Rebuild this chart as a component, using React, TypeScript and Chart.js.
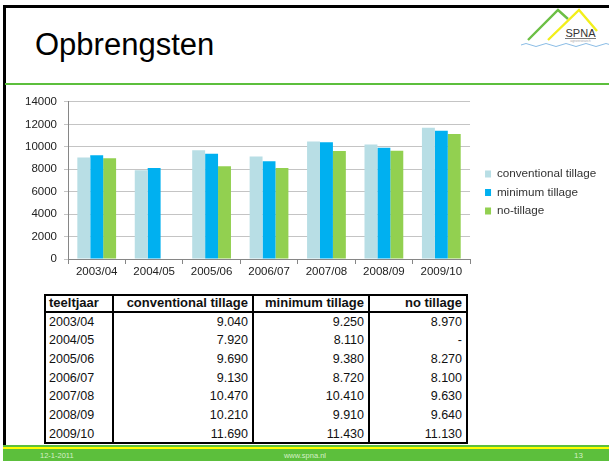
import React, { useEffect, useRef } from 'react';
import { Chart, registerables } from 'chart.js';

Chart.register(...registerables);

const seasons = ['2003/04', '2004/05', '2005/06', '2006/07', '2007/08', '2008/09', '2009/10'];
const conventional = [9040, 7920, 9690, 9130, 10470, 10210, 11690];
const minimum = [9250, 8110, 9380, 8720, 10410, 9910, 11430];
const noTillage: (number | null)[] = [8970, null, 8270, 8100, 9630, 9640, 11130];
const seriesNames = ['conventional tillage', 'minimum tillage', 'no-tillage'];
const seriesColors = ['#b8dee5', '#00b0f0', '#92d050'];
const tableHeaders = ['teeltjaar', 'conventional tillage', 'minimum tillage', 'no tillage'];
const yMax = 14000;
const yStep = 2000;
const title = 'Opbrengsten';
const footerDate = '12-1-2011';
const footerUrl = 'www.spna.nl';
const pageNumber = '13';

const FONT = "'Liberation Sans', Arial, sans-serif";

const fmt = (v: number | null) =>
  v == null ? '-' : String(v).replace(/\B(?=(\d{3})+(?!\d))/g, '.');

const legendShift = {
  id: 'legendShift',
  afterLayout(chart: any) {
    const lg = chart.legend;
    if (lg) {
      lg.left += 8.2;
      lg.right += 8.2;
    }
  },
};

function BarChart() {
  const ref = useRef<HTMLCanvasElement | null>(null);
  useEffect(() => {
    if (!ref.current) return;
    const tickFont = { family: FONT, size: 11.5 };
    const chart = new Chart(ref.current, {
      type: 'bar',
      data: {
        labels: seasons,
        datasets: [conventional, minimum, noTillage].map((d, i) => ({
          label: seriesNames[i],
          data: d as any,
          backgroundColor: seriesColors[i],
          borderWidth: 0,
          categoryPercentage: 0.675,
          barPercentage: 1,
        })),
      },
      options: {
        animation: false,
        responsive: false,
        maintainAspectRatio: false,
        layout: { padding: { top: 9, left: 0, right: 10.9, bottom: 0 } },
        plugins: {
          legend: {
            position: 'right',
            labels: {
              boxWidth: 6,
              boxHeight: 7,
              padding: 6.8,
              color: '#333',
              font: { family: FONT, size: 11.7 },
            },
          },
          tooltip: { enabled: false },
        },
        scales: {
          x: {
            grid: { offset: true, drawOnChartArea: false, tickLength: 5, color: '#868686' },
            border: { color: '#868686' },
            ticks: { padding: 1, color: '#222', font: tickFont, maxRotation: 0 },
            afterFit: (s: any) => { s.height = 29; },
          },
          y: {
            min: 0,
            max: yMax,
            ticks: {
              stepSize: yStep,
              padding: 7,
              color: '#222',
              font: tickFont,
              callback: (v: any) => String(v),
            },
            grid: { color: '#c4c4c4', tickLength: 4 },
            border: { color: '#868686' },
            afterFit: (s: any) => { s.width = 68; },
          },
        },
      } as any,
      plugins: [legendShift],
    });
    return () => chart.destroy();
  }, []);
  return (
    <canvas
      ref={ref}
      width={609}
      height={200}
      style={{ position: 'absolute', left: 0, top: 88, width: 609, height: 200, display: 'block' }}
    />
  );
}

const abs = (s: React.CSSProperties): React.CSSProperties => ({ position: 'absolute', ...s });

function DataTable() {
  const colLines = [44, 112, 252, 368, 466];
  const rightEdges = [0, 248, 364, 462];
  const rowTop0 = 312.5;
  const rowH = 18.7;
  const rows = seasons.map((s, i) => [s, fmt(conventional[i]), fmt(minimum[i]), fmt(noTillage[i])]);
  const els: React.ReactNode[] = [];
  els.push(<div key="top" style={abs({ left: 44, top: 294, width: 424, height: 2, background: '#000' })} />);
  els.push(<div key="hb" style={abs({ left: 44, top: 310.5, width: 424, height: 2, background: '#000' })} />);
  els.push(<div key="bot" style={abs({ left: 44, top: 442, width: 424, height: 2, background: '#000' })} />);
  colLines.forEach((x, i) =>
    els.push(<div key={'v' + i} style={abs({ left: x, top: 294, width: 2, height: 150, background: '#000' })} />)
  );
  const cellText = (txt: string, col: number, top: number, h: number, bold: boolean, key: string) => {
    const style: React.CSSProperties = abs({
      top,
      height: h,
      lineHeight: h + 'px',
      fontSize: bold ? 13 : 12.5,
      fontWeight: bold ? 700 : 400,
      color: '#111',
      whiteSpace: 'nowrap',
    });
    if (col === 0) {
      style.left = 49;
    } else {
      style.right = 609 - rightEdges[col];
      style.textAlign = 'right';
    }
    return <div key={key} style={style}>{txt}</div>;
  };
  tableHeaders.forEach((h, c) => els.push(cellText(h, c, 295, 16, true, 'h' + c)));
  rows.forEach((r, i) =>
    r.forEach((t, c) => els.push(cellText(t, c, rowTop0 + i * rowH, rowH, false, 'r' + i + c)))
  );
  return <>{els}</>;
}

function Logo() {
  return (
    <svg width={609} height={90} style={{ position: 'absolute', left: 0, top: 0 }}>
      <polyline points="528,40 558,10 568,19" fill="none" stroke="#6cbf45" strokeWidth={2.4} />
      <polyline points="548,40 579,10 597,31" fill="none" stroke="#f2ef1a" strokeWidth={2.4} />
      <text x={580.5} y={37} textAnchor="middle" fontFamily={FONT} fontSize={11} fill="#333">SPNA</text>
      <line x1={565} y1={38.5} x2={596} y2={38.5} stroke="#555" strokeWidth={0.8} />
      <text x={580.5} y={42} textAnchor="middle" fontFamily={FONT} fontSize={3.5} fill="#aaa">agroresearch</text>
      <path d="M521 45 q5 -3 10 0 t10 0 t10 0 t10 0 t10 0 t10 0 t10 0 t10 0 t10 0" fill="none" stroke="#8bbde6" strokeWidth={1} />
    </svg>
  );
}

export default function App() {
  return (
    <div style={abs({ left: 0, top: 0, width: 609, height: 461, background: '#fff', overflow: 'hidden', fontFamily: FONT })}>
      <div style={abs({ left: 3, top: 5, width: 606, height: 2.5, background: '#000' })} />
      <div style={abs({ left: 3, top: 5, width: 2.5, height: 440, background: '#000' })} />
      <div style={abs({ left: 35, top: 29, fontSize: 31, lineHeight: '31px', color: '#000', whiteSpace: 'nowrap' })}>{title}</div>
      <Logo />
      <div style={abs({ left: 5, top: 83, width: 604, height: 2, background: '#5cbf3c' })} />
      <BarChart />
      <DataTable />
      <div style={abs({ left: 3, top: 445, width: 606, height: 16, background: '#5cbf3c' })} />
      <div style={abs({ left: 3, top: 446.7, width: 606, height: 2.6, background: '#ffff00' })} />
      <div style={abs({ left: 40, top: 450, fontSize: 7.5, lineHeight: '11px', color: '#d6efc8' })}>{footerDate}</div>
      <div style={abs({ left: 255, width: 100, top: 450, fontSize: 7.5, lineHeight: '11px', color: '#d6efc8', textAlign: 'center' })}>{footerUrl}</div>
      <div style={abs({ left: 574, top: 450, fontSize: 8, lineHeight: '11px', color: '#d6efc8' })}>{pageNumber}</div>
    </div>
  );
}
